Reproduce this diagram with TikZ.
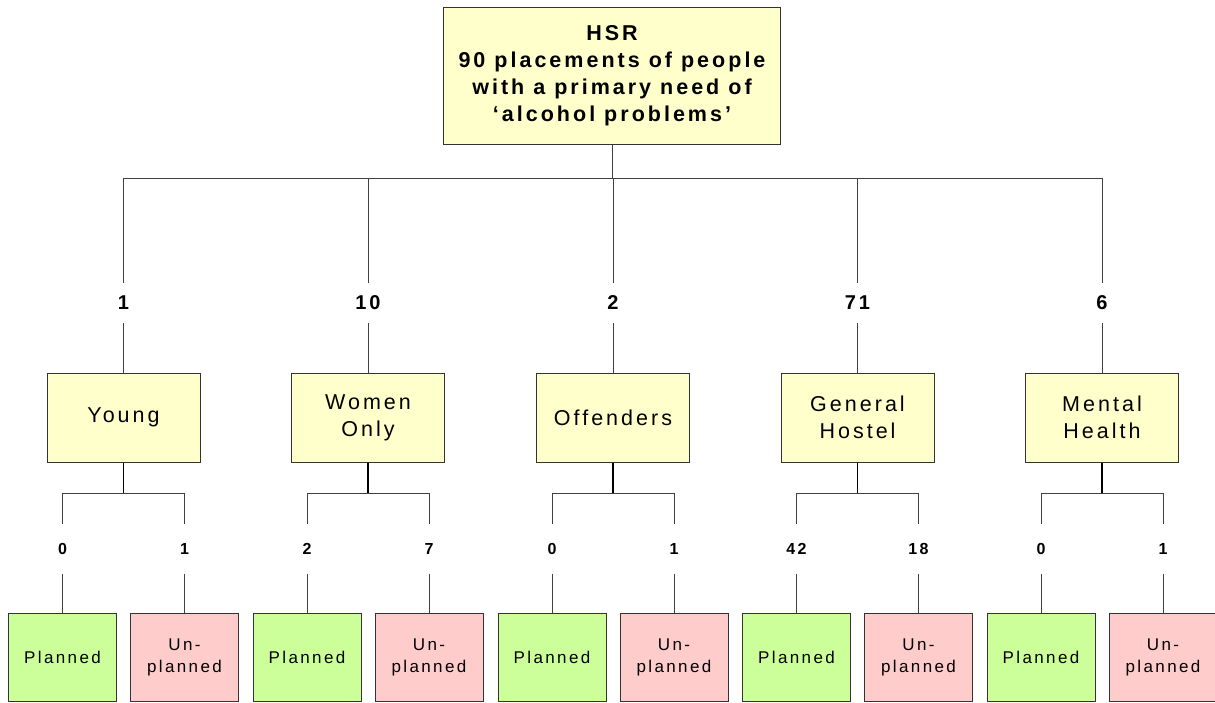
\documentclass[tikz,border=0pt]{standalone}
\usepackage{fontspec}
\setmainfont{Liberation Sans}[LetterSpace=14]
\usetikzlibrary{positioning}

\definecolor{boxyellow}{HTML}{FFFFCC}
\definecolor{boxgreen}{HTML}{CCFF99}
\definecolor{boxpink}{HTML}{FFCCCC}

\tikzset{
  box/.style={draw=black!80, line width=1pt, align=center, inner sep=0pt},
  mainbox/.style={box, fill=boxyellow, minimum width=337pt, minimum height=137pt,
    font=\fontsize{21.5}{27}\selectfont\bfseries},
  groupbox/.style={box, fill=boxyellow, minimum width=153pt, minimum height=89pt,
    font=\fontsize{21.5}{27}\selectfont},
  planbox/.style={box, fill=boxgreen, minimum width=108pt, minimum height=88pt,
    font=\fontsize{17}{22}\selectfont},
  unplanbox/.style={planbox, fill=boxpink},
  count/.style={minimum height=40pt, inner sep=0pt, font=\fontsize{20}{24}\selectfont\bfseries},
  subcount/.style={minimum height=50pt, inner sep=0pt, font=\fontsize{16}{20}\selectfont\bfseries},
  link/.style={draw=black!75, line width=1pt},
  drop/.style={draw=black, line width=1.6pt},
}

\begin{document}
\begin{tikzpicture}[x=1pt, y=-1pt]
    \useasboundingbox (0,0) rectangle (1215,702);

    % the top box
    \node[mainbox] (top) at (612,75.5) {\rule{0pt}{8pt}HSR\\90 placements of people\\with a primary need of\\‘alcohol problems’};
    \coordinate (bus) at (0,178);
    \coordinate (sub) at (0,493);

    % the groups and their counts
    \node[count] (nyoung) at (123.5,303) {1};
    \node[count] (nwomen) at (368,303) {10};
    \node[count] (noffend) at (613,303) {2};
    \node[count] (ngeneral) at (857.5,303) {71};
    \node[count] (nmental) at (1102,303) {6};
    %
    \node[groupbox] (young) at (123.5,417.5) {Young};
    \node[groupbox] (women) at (368,417.5) {Women\\Only};
    \node[groupbox] (offend) at (613,417.5) {Offenders};
    \node[groupbox] (general) at (857.5,417.5) {General\\Hostel};
    \node[groupbox] (mental) at (1102,417.5) {Mental\\Health};

    % the outcome counts
    \node[subcount] (nyoungp) at (62.5,549) {0};
    \node[subcount] (nyoungu) at (184.5,549) {1};
    \node[subcount] (nwomenp) at (307,549) {2};
    \node[subcount] (nwomenu) at (429,549) {7};
    \node[subcount] (noffendp) at (552,549) {0};
    \node[subcount] (noffendu) at (674,549) {1};
    \node[subcount] (ngeneralp) at (796.5,549) {42};
    \node[subcount] (ngeneralu) at (918.5,549) {18};
    \node[subcount] (nmentalp) at (1041,549) {0};
    \node[subcount] (nmentalu) at (1163,549) {1};

    % the outcome boxes
    \node[planbox] (youngp) at (62.5,657) {Planned};
    \node[unplanbox] (youngu) at (184.5,657) {Un-\\planned};
    \node[planbox] (womenp) at (307,657) {Planned};
    \node[unplanbox] (womenu) at (429,657) {Un-\\planned};
    \node[planbox] (offendp) at (552,657) {Planned};
    \node[unplanbox] (offendu) at (674,657) {Un-\\planned};
    \node[planbox] (generalp) at (796.5,657) {Planned};
    \node[unplanbox] (generalu) at (918.5,657) {Un-\\planned};
    \node[planbox] (mentalp) at (1041,657) {Planned};
    \node[unplanbox] (mentalu) at (1163,657) {Un-\\planned};

    % top level lines
    \draw[link] (top.south) -- (top.south |- bus);
    \draw[link] (nyoung.north) -- (nyoung.north |- bus) -- (nmental.north |- bus) -- (nmental.north);
    \draw[link] (nwomen.north) -- (nwomen.north |- bus);
    \draw[link] (noffend.north) -- (noffend.north |- bus);
    \draw[link] (ngeneral.north) -- (ngeneral.north |- bus);
    \draw[link] (nyoung.south) -- (young.north);
    \draw[link] (nwomen.south) -- (women.north);
    \draw[link] (noffend.south) -- (offend.north);
    \draw[link] (ngeneral.south) -- (general.north);
    \draw[link] (nmental.south) -- (mental.north);

    % lines down to the outcomes
    \draw[drop] (young.south) -- (young.south |- sub);
    \draw[drop] (women.south) -- (women.south |- sub);
    \draw[drop] (offend.south) -- (offend.south |- sub);
    \draw[drop] (general.south) -- (general.south |- sub);
    \draw[drop] (mental.south) -- (mental.south |- sub);
    %
    \draw[link] (nyoungp.north) -- (nyoungp.north |- sub) -- (nyoungu.north |- sub) -- (nyoungu.north);
    \draw[link] (nwomenp.north) -- (nwomenp.north |- sub) -- (nwomenu.north |- sub) -- (nwomenu.north);
    \draw[link] (noffendp.north) -- (noffendp.north |- sub) -- (noffendu.north |- sub) -- (noffendu.north);
    \draw[link] (ngeneralp.north) -- (ngeneralp.north |- sub) -- (ngeneralu.north |- sub) -- (ngeneralu.north);
    \draw[link] (nmentalp.north) -- (nmentalp.north |- sub) -- (nmentalu.north |- sub) -- (nmentalu.north);
    %
    \draw[link] (nyoungp.south) -- (youngp.north);
    \draw[link] (nyoungu.south) -- (youngu.north);
    \draw[link] (nwomenp.south) -- (womenp.north);
    \draw[link] (nwomenu.south) -- (womenu.north);
    \draw[link] (noffendp.south) -- (offendp.north);
    \draw[link] (noffendu.south) -- (offendu.north);
    \draw[link] (ngeneralp.south) -- (generalp.north);
    \draw[link] (ngeneralu.south) -- (generalu.north);
    \draw[link] (nmentalp.south) -- (mentalp.north);
    \draw[link] (nmentalu.south) -- (mentalu.north);
\end{tikzpicture}
\end{document}
